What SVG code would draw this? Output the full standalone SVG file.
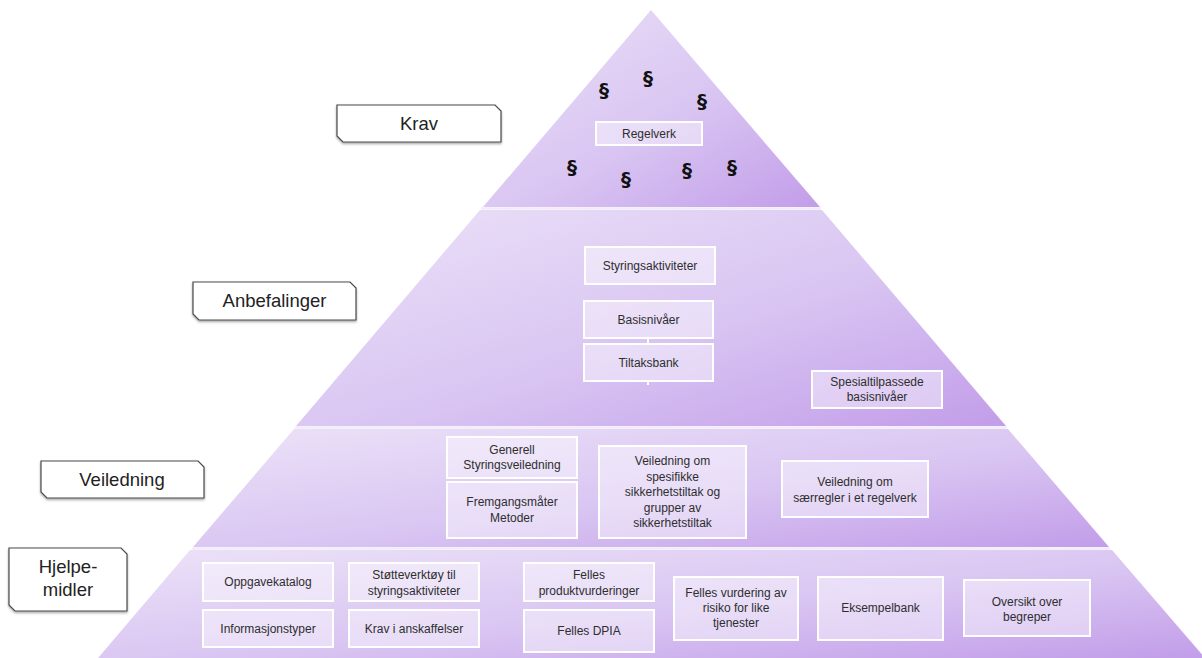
<svg xmlns="http://www.w3.org/2000/svg" width="1202" height="658" viewBox="0 0 1202 658">
<defs>
<linearGradient id="tierGrad" x1="0" y1="0" x2="1" y2="1">
<stop offset="0" stop-color="#ece2f8"/>
<stop offset="0.55" stop-color="#d9c5f2"/>
<stop offset="1" stop-color="#c29de9"/>
</linearGradient>
<filter id="sh" x="-10%" y="-10%" width="120%" height="130%">
<feDropShadow dx="0" dy="1.5" stdDeviation="1" flood-color="#000" flood-opacity="0.35"/>
</filter>
</defs>
<style>
.tier{fill:url(#tierGrad);}
.box{fill:#ffffff;fill-opacity:0.42;stroke:#ffffff;stroke-width:2;}
.bt{font-family:"Liberation Sans",Arial,sans-serif;font-size:12px;fill:#2e2e2e;text-anchor:middle;}
.lbl{fill:#ffffff;stroke:#4a4a4a;stroke-width:1.2;filter:url(#sh);}
.lt{font-family:"Liberation Sans",Arial,sans-serif;font-size:18.5px;fill:#222222;text-anchor:middle;}
.par{font-family:"DejaVu Sans",sans-serif;font-size:20px;font-weight:bold;fill:#111111;text-anchor:middle;}
.conn{stroke:#ffffff;stroke-width:2;fill:none;}
.gap{stroke:#f2ecfa;stroke-width:2.5;}
</style>
<rect width="1202" height="658" fill="#ffffff"/>

<g id="pyramid">
<polygon id="tier-krav" class="tier" points="651,10 820,207 483,207"/>
<polygon id="tier-anbefalinger" class="tier" points="480,210 822,210 1006,426 296,426"/>
<polygon id="tier-veiledning" class="tier" points="294,429 1008,429 1109,547 193,547"/>
<polygon id="tier-hjelpemidler" class="tier" points="190,550 1112,550 1205,658 98,658"/>
<line class="gap" x1="481" y1="208.5" x2="821" y2="208.5"/>
<line class="gap" x1="295" y1="427.5" x2="1007" y2="427.5"/>
<line class="gap" x1="192" y1="548.5" x2="1110" y2="548.5"/>
</g>

<g id="connectors">
<line class="conn" x1="648" y1="338" x2="648" y2="344"/>
<line class="conn" x1="648" y1="381" x2="648" y2="385"/>
</g>

<g id="label-krav">
<path class="lbl" d="M337,105 H495 L501,111 V142 H343 L337,136 Z"/>
<text class="lt" x="419" y="130">Krav</text>
</g>
<g id="label-anbefalinger">
<path class="lbl" d="M193,282 H350 L356,288 V320 H199 L193,314 Z"/>
<text class="lt" x="274.5" y="307">Anbefalinger</text>
</g>
<g id="label-veiledning">
<path class="lbl" d="M41,461 H198 L204,467 V498 H47 L41,492 Z"/>
<text class="lt" x="122" y="486">Veiledning</text>
</g>
<g id="label-hjelpemidler">
<path class="lbl" d="M9,548 H121 L127,554 V611 H15 L9,605 Z"/>
<text class="lt" x="68" y="573">Hjelpe-</text>
<text class="lt" x="68" y="596">midler</text>
</g>

<g id="paragraphs">
<text class="par" x="604" y="97">§</text>
<text class="par" x="648" y="85">§</text>
<text class="par" x="702" y="108">§</text>
<text class="par" x="572" y="174">§</text>
<text class="par" x="626" y="186">§</text>
<text class="par" x="687" y="177">§</text>
<text class="par" x="732" y="174">§</text>
</g>

<g id="node-regelverk">
<rect class="box" x="596" y="122" width="106" height="23"/>
<text class="bt" x="649" y="137.5">Regelverk</text>
</g>

<g id="node-styringsaktiviteter">
<rect class="box" x="585" y="247" width="130" height="37"/>
<text class="bt" x="650" y="270">Styringsaktiviteter</text>
</g>
<g id="node-basisnivaer">
<rect class="box" x="584" y="301" width="129" height="37"/>
<text class="bt" x="648.5" y="324">Basisnivåer</text>
</g>
<g id="node-tiltaksbank">
<rect class="box" x="584" y="344" width="129" height="37"/>
<text class="bt" x="648.5" y="367">Tiltaksbank</text>
</g>
<g id="node-spesialtilpassede">
<rect class="box" x="812" y="371" width="130" height="37"/>
<text class="bt" x="877" y="386">Spesialtilpassede</text>
<text class="bt" x="877" y="401">basisnivåer</text>
</g>

<g id="node-generell">
<rect class="box" x="447" y="437" width="130" height="41"/>
<text class="bt" x="512" y="454">Generell</text>
<text class="bt" x="512" y="469">Styringsveiledning</text>
</g>
<g id="node-fremgangsmater">
<rect class="box" x="447" y="482" width="130" height="56"/>
<text class="bt" x="512" y="506">Fremgangsmåter</text>
<text class="bt" x="512" y="522">Metoder</text>
</g>
<g id="node-spesifikke">
<rect class="box" x="599" y="446" width="147" height="92"/>
<text class="bt" x="672.5" y="465">Veiledning om</text>
<text class="bt" x="672.5" y="480.5">spesifikke</text>
<text class="bt" x="672.5" y="496">sikkerhetstiltak og</text>
<text class="bt" x="672.5" y="511.5">grupper av</text>
<text class="bt" x="672.5" y="527">sikkerhetstiltak</text>
</g>
<g id="node-saerregler">
<rect class="box" x="782" y="461" width="146" height="56"/>
<text class="bt" x="855" y="486">Veiledning om</text>
<text class="bt" x="855" y="502">særregler i et regelverk</text>
</g>

<g id="node-oppgavekatalog">
<rect class="box" x="203" y="563" width="130" height="38"/>
<text class="bt" x="268" y="586">Oppgavekatalog</text>
</g>
<g id="node-informasjonstyper">
<rect class="box" x="203" y="610" width="130" height="37"/>
<text class="bt" x="268" y="633">Informasjonstyper</text>
</g>
<g id="node-stotteverktoy">
<rect class="box" x="349" y="563" width="130" height="38"/>
<text class="bt" x="414" y="579">Støtteverktøy til</text>
<text class="bt" x="414" y="595">styringsaktiviteter</text>
</g>
<g id="node-krav-anskaffelser">
<rect class="box" x="349" y="610" width="130" height="37"/>
<text class="bt" x="414" y="633">Krav i anskaffelser</text>
</g>
<g id="node-produktvurderinger">
<rect class="box" x="524" y="563" width="130" height="38"/>
<text class="bt" x="589" y="579">Felles</text>
<text class="bt" x="589" y="595">produktvurderinger</text>
</g>
<g id="node-dpia">
<rect class="box" x="524" y="610" width="130" height="42"/>
<text class="bt" x="589" y="635">Felles DPIA</text>
</g>
<g id="node-risiko">
<rect class="box" x="674" y="577" width="124" height="63"/>
<text class="bt" x="736" y="597">Felles vurdering av</text>
<text class="bt" x="736" y="612">risiko for like</text>
<text class="bt" x="736" y="627">tjenester</text>
</g>
<g id="node-eksempelbank">
<rect class="box" x="818" y="577" width="125" height="63"/>
<text class="bt" x="880.5" y="612">Eksempelbank</text>
</g>
<g id="node-begreper">
<rect class="box" x="964" y="580" width="126" height="56"/>
<text class="bt" x="1027" y="606">Oversikt over</text>
<text class="bt" x="1027" y="621">begreper</text>
</g>
</svg>
